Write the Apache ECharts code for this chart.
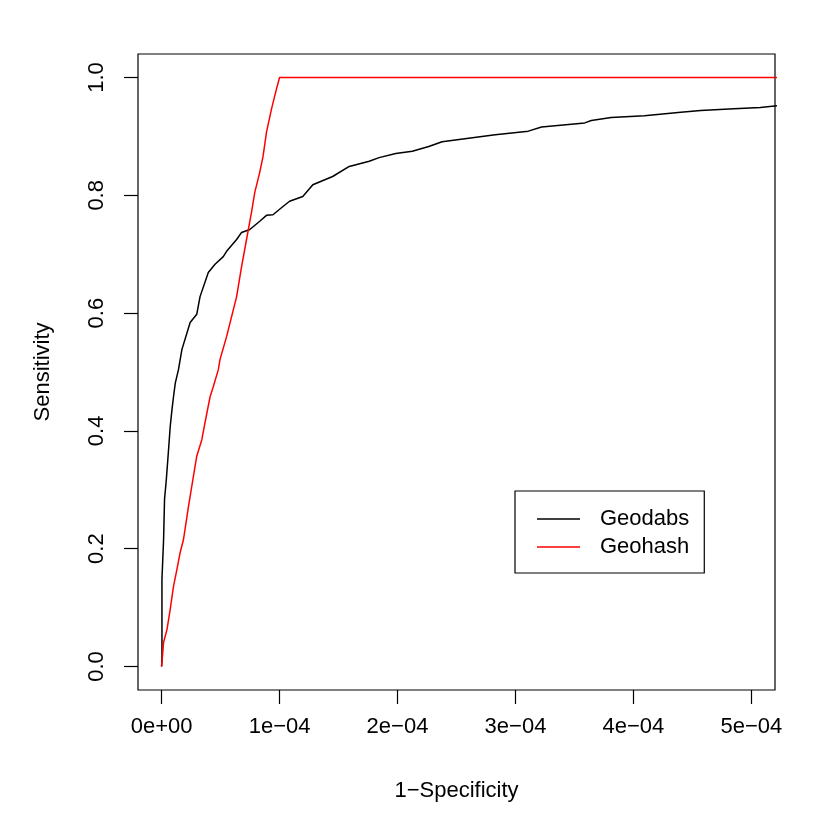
<!DOCTYPE html>
<html>
<head>
<meta charset="utf-8">
<script src="https://cdn.jsdelivr.net/npm/echarts@6/dist/echarts.min.js"></script>
<style>
	html, body { margin: 0; padding: 0; background: #fff; }
	#chart { width: 830px; height: 830px; }
</style>
</head>
<body>
<div id="chart"></div>
<script>
// Geodabs ROC curve (1-specificity, sensitivity)
var geodabsX = [0, 0.003e-4, 0.003e-4, 0.017e-4, 0.025e-4, 0.040e-4, 0.059e-4, 0.073e-4, 0.088e-4, 0.101e-4,
	0.116e-4, 0.143e-4, 0.172e-4, 0.242e-4, 0.298e-4, 0.326e-4, 0.396e-4, 0.453e-4, 0.523e-4, 0.551e-4,
	0.636e-4, 0.678e-4, 0.748e-4, 0.832e-4, 0.889e-4, 0.944e-4, 1.029e-4, 1.085e-4, 1.197e-4, 1.282e-4,
	1.450e-4, 1.591e-4, 1.760e-4, 1.844e-4, 1.985e-4, 2.125e-4, 2.265e-4, 2.378e-4, 2.603e-4, 2.828e-4,
	3.109e-4, 3.221e-4, 3.587e-4, 3.643e-4, 3.811e-4, 4.093e-4, 4.401e-4, 4.570e-4, 4.852e-4, 5.076e-4,
	5.300e-4];
var geodabsY = [0, 0.012, 0.148, 0.216, 0.284, 0.317, 0.368, 0.407, 0.436, 0.458,
	0.481, 0.504, 0.538, 0.584, 0.598, 0.628, 0.669, 0.683, 0.696, 0.705,
	0.725, 0.737, 0.742, 0.756, 0.766, 0.767, 0.781, 0.790, 0.798, 0.818,
	0.832, 0.849, 0.858, 0.864, 0.871, 0.875, 0.883, 0.891, 0.897, 0.903,
	0.909, 0.916, 0.923, 0.927, 0.932, 0.935, 0.941, 0.944, 0.947, 0.949,
	0.954];

// Geohash ROC curve
var geohashX = [0, 0.017e-4, 0.046e-4, 0.073e-4, 0.101e-4, 0.130e-4, 0.158e-4, 0.186e-4, 0.228e-4, 0.270e-4,
	0.298e-4, 0.341e-4, 0.368e-4, 0.411e-4, 0.438e-4, 0.481e-4, 0.495e-4, 0.551e-4, 0.636e-4, 0.678e-4,
	0.720e-4, 0.762e-4, 0.790e-4, 0.832e-4, 0.860e-4, 0.889e-4, 0.931e-4, 0.973e-4, 1.000e-4, 6.000e-4];
var geohashY = [0, 0.041, 0.063, 0.097, 0.136, 0.165, 0.194, 0.216, 0.272, 0.323,
	0.357, 0.385, 0.414, 0.458, 0.475, 0.504, 0.521, 0.560, 0.628, 0.679,
	0.725, 0.771, 0.805, 0.839, 0.866, 0.907, 0.946, 0.980, 1.000, 1.000];

var xTickValues = [0, 1e-4, 2e-4, 3e-4, 4e-4, 5e-4];
var xTickLabels = ['0e+00', '1e\u221204', '2e\u221204', '3e\u221204', '4e\u221204', '5e\u221204'];
var yTickValues = [0, 0.2, 0.4, 0.6, 0.8, 1.0];
var yTickLabels = ['0.0', '0.2', '0.4', '0.6', '0.8', '1.0'];

function zip(xs, ys) {
	return xs.map(function (x, i) {
		return [x, ys[i]];
	});
}

function labelFor(values, labels) {
	return function (v) {
		for (var i = 0; i < values.length; i++) {
			if (Math.abs(values[i] - v) < 1e-9) return labels[i];
		}
		return '';
	};
}

var FONT = 'Liberation Sans';
var FS = 22;
var chart = echarts.init(document.getElementById('chart'));

var option = {
	backgroundColor: '#fff',
	animation: false,
	textStyle: { fontFamily: FONT, color: '#000' },
	grid: {
		left: 138,
		top: 54,
		right: 55,
		bottom: 140,
		show: true,
		borderColor: '#000',
		borderWidth: 1.2,
		containLabel: false
	},
	legend: {
		orient: 'vertical',
		left: 515,
		top: 491,
		padding: [14, 15, 12, 22],
		borderColor: '#000',
		borderWidth: 1.2,
		icon: 'rect',
		itemWidth: 43,
		itemHeight: 1.5,
		itemGap: 0,
		textStyle: {
			fontFamily: FONT,
			fontSize: FS,
			color: '#000',
			lineHeight: 28,
			padding: [0, 0, 0, 15]
		},
		data: ['Geodabs', 'Geohash']
	},
	xAxis: {
		type: 'value',
		min: -0.2e-4,
		max: 5.2e-4,
		name: '1\u2212Specificity',
		nameLocation: 'middle',
		nameGap: 90,
		nameTextStyle: { fontFamily: FONT, fontSize: FS, color: '#000' },
		axisLine: { show: false, onZero: false },
		splitLine: { show: false },
		axisTick: {
			show: true,
			inside: false,
			length: 14,
			customValues: xTickValues,
			lineStyle: { color: '#000', width: 1.2 }
		},
		axisLabel: {
			show: true,
			margin: 26,
			fontFamily: FONT,
			fontSize: FS,
			color: '#000',
			customValues: xTickValues,
			formatter: labelFor(xTickValues, xTickLabels)
		}
	},
	yAxis: {
		type: 'value',
		min: -0.04,
		max: 1.04,
		name: 'Sensitivity',
		nameLocation: 'middle',
		nameGap: 84,
		nameTextStyle: { fontFamily: FONT, fontSize: FS, color: '#000' },
		axisLine: { show: false, onZero: false },
		splitLine: { show: false },
		axisTick: {
			show: true,
			inside: false,
			length: 14,
			customValues: yTickValues,
			lineStyle: { color: '#000', width: 1.2 }
		},
		axisLabel: {
			show: true,
			rotate: 90,
			margin: 30,
			fontFamily: FONT,
			fontSize: FS,
			color: '#000',
			customValues: yTickValues,
			formatter: labelFor(yTickValues, yTickLabels)
		}
	},
	series: [
		{
			name: 'Geodabs',
			type: 'line',
			data: zip(geodabsX, geodabsY),
			showSymbol: false,
			symbol: 'none',
			clip: true,
			color: '#000',
			lineStyle: { color: '#000', width: 1.5 }
		},
		{
			name: 'Geohash',
			type: 'line',
			data: zip(geohashX, geohashY),
			showSymbol: false,
			symbol: 'none',
			clip: true,
			color: '#ff0000',
			lineStyle: { color: '#ff0000', width: 1.5 }
		}
	]
};
chart.setOption(option);
</script>
</body>
</html>
